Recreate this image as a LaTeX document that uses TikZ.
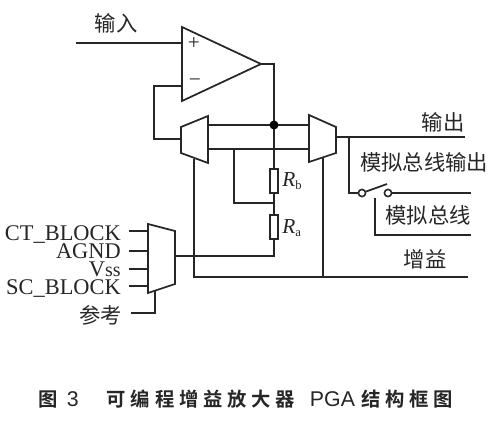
\documentclass[tikz,border=0pt]{standalone}
\usepackage{fontspec}
\setmainfont{Liberation Serif}
\setsansfont{Liberation Sans}
\newfontfamily\cjk{Noto Sans CJK SC}
\newfontfamily\cjkb{Noto Sans CJK SC Bold}[LetterSpace=25]
\newcommand{\capcn}[1]{{\cjkb\fontsize{14.5}{14.5}\selectfont #1}}
\definecolor{ink}{HTML}{262626}
\tikzset{
  wire/.style={draw=ink,line width=1.3pt,line join=miter},
  block/.style={wire,fill=white},
  cnlabel/.style={inner sep=0pt,text=ink,font=\cjk\fontsize{16}{16}\selectfont},
  enlabel/.style={inner sep=0pt,text=ink,anchor=east,text height=11pt,text depth=0pt,font=\fontsize{16.8}{16.8}\selectfont},
  rlabel/.style={inner sep=0pt,text=ink,anchor=west,font=\fontsize{16}{16}\selectfont},
  contact/.style={circle,draw=ink,line width=1.2pt,fill=white,inner sep=0pt,minimum size=5.4pt},
  res/.style={draw=ink,line width=1.3pt,fill=white,inner sep=0pt,minimum width=6.4pt,minimum height=18pt},
  dot/.style={circle,fill=black,inner sep=0pt,minimum size=6.8pt},
  sign/.style={inner sep=0pt,text=ink,font=\fontsize{16}{16}\selectfont},
}
\begin{document}
\begin{tikzpicture}[x=0.75pt,y=-0.75pt]
\useasboundingbox (0,0) rectangle (501,421);
% named points
\coordinate (inP) at (76,43);
\coordinate (plus) at (182,43);
\coordinate (minus) at (182,86);
\coordinate (tip) at (261,64);
\coordinate (fbA) at (154,86);
\coordinate (fbB) at (154,139);
\coordinate (lmIn) at (181,139);
\coordinate (lmBot) at (194,159);
\coordinate (rmBot) at (323,158);
\coordinate (lmT) at (208,125);
\coordinate (lmU) at (208,149);
\coordinate (rmT) at (309,125);
\coordinate (rmU) at (309,149);
\coordinate (rmOut) at (336,137);
\coordinate (outEnd) at (465,137);
\coordinate (branch) at (349,137);
\coordinate (swL) at (349,193);
\coordinate (busEnd) at (471,193);
\coordinate (abTop) at (375,198);
\coordinate (abCorner) at (375,235);
\coordinate (abEnd) at (471,235);
\coordinate (gainL) at (194,277);
\coordinate (gainM) at (323,277);
\coordinate (gainEnd) at (468,277);
\coordinate (tapB) at (234,149);
\coordinate (tapC) at (234,203);
\coordinate (mid) at (274,203);
\coordinate (top) at (274,64);
\coordinate (raBot) at (274,256);
\coordinate (muxOut) at (175,256);
\coordinate (refEnd) at (131,313);
\coordinate (refCorner) at (155,313);
\coordinate (refTop) at (155,291);
\coordinate (i1) at (129,231);\coordinate (j1) at (148,231);
\coordinate (i2) at (129,251);\coordinate (j2) at (148,251);
\coordinate (i3) at (129,269);\coordinate (j3) at (148,269);
\coordinate (i4) at (129,286);\coordinate (j4) at (148,286);
% wires
\draw[wire] (inP) -- (plus);
\draw[wire] (minus) -- (fbA) -- (fbB) -- (lmIn);
\draw[wire] (tip) -- (top) -- (mid) -- (raBot) -- (muxOut);
\draw[wire] (lmT) -- (rmT);
\draw[wire] (lmU) -- (rmU);
\draw[wire] (lmBot) -- (gainL) -- (gainEnd);
\draw[wire] (rmBot) -- (gainM);
\draw[wire] (tapB) -- (tapC) -- (mid);
\draw[wire] (rmOut) -- (outEnd);
\draw[wire] (branch) -- (swL) -- (362,193);
\draw[wire] (abTop) -- (abCorner) -- (abEnd);
\draw[wire] (i1)--(j1);\draw[wire] (i2)--(j2);\draw[wire] (i3)--(j3);\draw[wire] (i4)--(j4);
\draw[wire] (refEnd) -- (refCorner) -- (refTop);
% blocks
\draw[block] (182,27) -- (tip) -- (182,101) -- cycle;
\node[sign] (plusSign) at (194,43) {+};
\node[sign] (minusSign) at (195,83) {\textminus};
\draw[block] (181,127) -- (208,116) -- (208,163) -- (181,153) -- cycle;
\draw[block] (309,115) -- (336,127) -- (336,153) -- (309,162) -- cycle;
\draw[block] (148,224) -- (175,231) -- (175,284) -- (148,293) -- cycle;
\node[res] (Rb) at (274,181) {};
\node[res] (Ra) at (274,227) {};
\node[dot] (junction) at (274,125) {};
% switch
\node[contact] (c1) at (362,193) {};
\node[contact] (c2) at (388,193) {};
\draw[wire] (c2) -- (busEnd);
\draw[wire] (c1) -- (387,184);
% labels
\node[cnlabel] (lIn) at (116,23) {输入};
\node[cnlabel] (lOut) at (443,122) {输出};
\node[cnlabel] (lAo) at (424,162) {模拟总线输出};
\node[cnlabel] (lAb) at (428,215) {模拟总线};
\node[cnlabel] (lGain) at (425,259) {增益};
\node[cnlabel,anchor=east] (lRef) at (122,315) {参考};
\node[enlabel] (t1) at (121,233) {CT\_BLOCK};
\node[enlabel] (t2) at (121,251) {AGND};
\node[enlabel] (t3) at (121,269) {V{\fontsize{15}{15}\selectfont ss}};
\node[enlabel] (t4) at (121,287) {SC\_BLOCK};
\node[rlabel] (lRb) at (282,181) {\textit{R}\raisebox{-2.5pt}{\fontsize{9.5}{9.5}\selectfont b}};
\node[rlabel] (lRa) at (282,228) {\textit{R}\raisebox{-2.5pt}{\fontsize{9.5}{9.5}\selectfont a}};
\node[inner sep=0pt,text=ink,anchor=west,font=\sffamily\fontsize{16}{16}\selectfont] (cap) at (38,399)
  {\capcn{图}\hspace{7pt}3\hspace{21pt}\capcn{可编程增益放大器}\hspace{11pt}PGA\hspace{4.5pt}\capcn{结构框图}};
\end{tikzpicture}
\end{document}
